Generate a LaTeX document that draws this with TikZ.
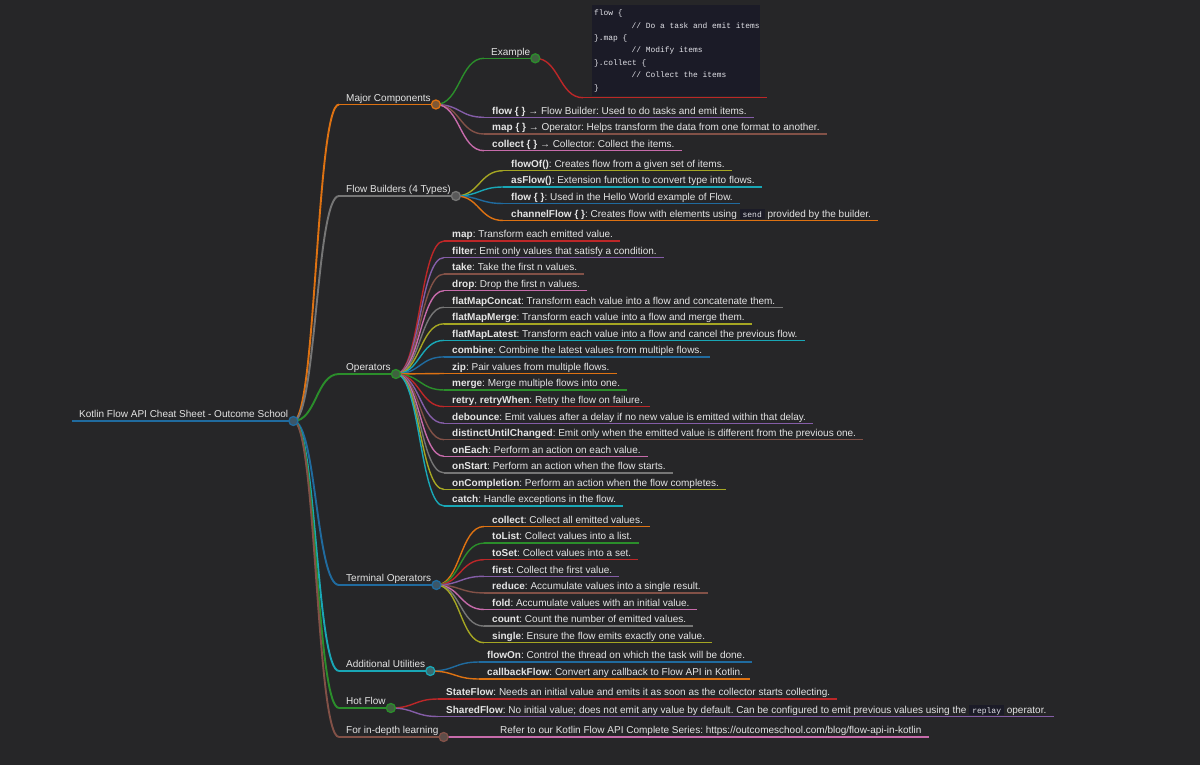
\documentclass[tikz,border=0pt]{standalone}
\usepackage{fontspec}
\setmainfont{Liberation Sans}
\setmonofont{Liberation Mono}
\usetikzlibrary{calc}
\frenchspacing
\definecolor{bgcol}{HTML}{262628}
\definecolor{fg}{HTML}{E4E4E4}
\definecolor{codebg}{HTML}{1B1B27}
\definecolor{codefg}{HTML}{E2E2E8}
\definecolor{dotfill}{HTML}{4A4A4A}
\definecolor{rA}{HTML}{1F77B4}
\definecolor{rB}{HTML}{FF7F0E}
\definecolor{rC}{HTML}{2CA02C}
\definecolor{rD}{HTML}{D62728}
\definecolor{rE}{HTML}{9467BD}
\definecolor{rF}{HTML}{8C564B}
\definecolor{rG}{HTML}{E377C2}
\definecolor{rH}{HTML}{7F7F7F}
\definecolor{rI}{HTML}{BCBD22}
\definecolor{rJ}{HTML}{17BECF}
\colorlet{cA}{rA!85!bgcol}
\colorlet{cB}{rB!85!bgcol}
\colorlet{cC}{rC!85!bgcol}
\colorlet{cD}{rD!85!bgcol}
\colorlet{cE}{rE!85!bgcol}
\colorlet{cF}{rF!90!bgcol}
\colorlet{cG}{rG!85!bgcol}
\colorlet{cH}{rH!90!bgcol}
\colorlet{cI}{rI!85!bgcol}
\colorlet{cJ}{rJ!85!bgcol}
\pgfdeclarelayer{back}
\pgfdeclarelayer{lines}
\pgfsetlayers{back,lines,main}
\tikzset{
  leafnode/.style={anchor=south west, inner xsep=0pt, inner ysep=3pt, text depth=0pt,
    text=fg, font=\fontsize{10}{12}\selectfont},
  link/.style={line width=1.4pt},
  mainlink/.style={line width=1.9pt},
  uline/.style={line width=1.4pt},
  dot/.style={circle, minimum size=9pt, inner sep=0pt, line width=1.3pt},
  codetext/.style={anchor=north west, align=left, inner sep=0pt, text=codefg,
    font=\ttfamily\fontsize{7.9}{12.4}\selectfont},
}
\newcommand\icode[1]{{\setlength{\fboxsep}{0pt}\colorbox{codebg}{\hspace*{3pt}\rule[-2pt]{0pt}{10.5pt}\textcolor{codefg}{\ttfamily\fontsize{8}{9}\selectfont #1}\hspace*{3pt}}}}
% leaf: name, parent dot, colour, X, underline y, text
\newcommand\mmleaf[6]{%
  \coordinate (#1s) at (#4,#5);
  \node[leafnode] (#1) at (#1s) {\hspace*{8pt}#6\hspace*{7pt}};
  \begin{pgfonlayer}{lines}
  \draw[link,#3] (#2.center) .. controls ($(#2.center)!0.5!(#2.center-|#1s)$) and ($(#1s)!0.5!(#1s-|#2.center)$) .. (#1s);
  \draw[uline,#3] (#1.south west) -- (#1.south east);
  \end{pgfonlayer}
}
% branch: name, parent dot, colour, X, underline y, text, link style
\newcommand\mmbranch[7]{%
  \coordinate (#1s) at (#4,#5);
  \node[leafnode] (#1) at (#1s) {\hspace*{7pt}#6\hspace*{5pt}};
  \begin{pgfonlayer}{lines}
  \draw[#7,#3] (#2.center) .. controls ($(#2.center)!0.5!(#2.center-|#1s)$) and ($(#1s)!0.5!(#1s-|#2.center)$) .. (#1s);
  \draw[uline,#3] (#1.south west) -- (#1.south east);
  \end{pgfonlayer}
  \node[dot, draw=#3, fill=#3!35!dotfill] (#1c) at (#1.south east) {};
}
\begin{document}
\begin{tikzpicture}[x=1pt,y=-1pt]
\useasboundingbox (0,0) rectangle (1200,765);
\begin{pgfonlayer}{back}
\fill[bgcol] (0,0) rectangle (1200,765);
\end{pgfonlayer}

% root
\coordinate (roots) at (72,421);
\node[leafnode] (root) at (roots) {\hspace*{7pt}Kotlin Flow API Cheat Sheet - Outcome School\hspace*{5pt}};
\begin{pgfonlayer}{lines}
\draw[uline,cA] (root.south west) -- (root.south east);
\end{pgfonlayer}
\node[dot, draw=cA, fill=cA!35!dotfill] (rootc) at (root.south east) {};

% Major Components
\mmbranch{mc}{rootc}{cB}{339}{104.5}{Major Components}{mainlink}
\mmbranch{ex}{mcc}{cC}{484}{58.3}{Example}{link}
\node[fill=codebg, anchor=north west, minimum width=168pt, minimum height=91pt, inner sep=0pt] (codebox) at (592,5) {};
\node[codetext] (codetxt) at (594,9.8) {flow \{\\\hspace*{37.4pt}// Do a task and emit items\\\}.map \{\\\hspace*{37.4pt}// Modify items\\\}.collect \{\\\hspace*{37.4pt}// Collect the items\\\}};
\coordinate (codes) at (583,97.7);
\coordinate (codee) at (767,97.7);
\begin{pgfonlayer}{lines}
\draw[link,cD] (exc.center) .. controls ($(exc.center)!0.5!(exc.center-|codes)$) and ($(codes)!0.5!(codes-|exc.center)$) .. (codes);
\draw[uline,cD] (codes) -- (codee);
\end{pgfonlayer}
\mmleaf{mca}{mcc}{cE}{484}{117.3}{\textbf{flow \{ \}} → Flow Builder: Used to do tasks and emit items.}
\mmleaf{mcb}{mcc}{cF}{484}{134}{\textbf{map \{ \}} → Operator: Helps transform the data from one format to another.}
\mmleaf{mcd}{mcc}{cG}{484}{150.7}{\textbf{collect \{ \}} → Collector: Collect the items.}

% Flow Builders
\mmbranch{fb}{rootc}{cH}{339}{196}{Flow Builders (4 Types)}{mainlink}
\mmleaf{fba}{fbc}{cI}{503}{170.7}{\textbf{flowOf()}: Creates flow from a given set of items.}
\mmleaf{fbb}{fbc}{cJ}{503}{187}{\textbf{asFlow()}: Extension function to convert type into flows.}
\mmleaf{fbd}{fbc}{cA}{503}{203.5}{\textbf{flow \{ \}}: Used in the Hello World example of Flow.}
\mmleaf{fbe}{fbc}{cB}{503}{220.5}{\textbf{channelFlow \{ \}}: Creates flow with elements using \icode{send} provided by the builder.}

% Operators
\mmbranch{op}{rootc}{cC}{339}{374}{Operators}{mainlink}
\mmleaf{opa}{opc}{cD}{444}{241}{\textbf{map}: Transform each emitted value.}
\mmleaf{opb}{opc}{cE}{444}{257.6}{\textbf{filter}: Emit only values that satisfy a condition.}
\mmleaf{opd}{opc}{cF}{444}{274.1}{\textbf{take}: Take the first n values.}
\mmleaf{ope}{opc}{cG}{444}{290.7}{\textbf{drop}: Drop the first n values.}
\mmleaf{opf}{opc}{cH}{444}{307.2}{\textbf{flatMapConcat}: Transform each value into a flow and concatenate them.}
\mmleaf{opg}{opc}{cI}{444}{323.8}{\textbf{flatMapMerge}: Transform each value into a flow and merge them.}
\mmleaf{oph}{opc}{cJ}{444}{340.4}{\textbf{flatMapLatest}: Transform each value into a flow and cancel the previous flow.}
\mmleaf{opi}{opc}{cA}{444}{356.9}{\textbf{combine}: Combine the latest values from multiple flows.}
\mmleaf{opj}{opc}{cB}{444}{373.5}{\textbf{zip}: Pair values from multiple flows.}
\mmleaf{opk}{opc}{cC}{444}{390}{\textbf{merge}: Merge multiple flows into one.}
\mmleaf{opl}{opc}{cD}{444}{406.6}{\textbf{retry}, \textbf{retryWhen}: Retry the flow on failure.}
\mmleaf{opm}{opc}{cE}{444}{423.2}{\textbf{debounce}: Emit values after a delay if no new value is emitted within that delay.}
\mmleaf{opn}{opc}{cF}{444}{439.7}{\textbf{distinctUntilChanged}: Emit only when the emitted value is different from the previous one.}
\mmleaf{opo}{opc}{cG}{444}{456.3}{\textbf{onEach}: Perform an action on each value.}
\mmleaf{opp}{opc}{cH}{444}{472.8}{\textbf{onStart}: Perform an action when the flow starts.}
\mmleaf{opq}{opc}{cI}{444}{489.4}{\textbf{onCompletion}: Perform an action when the flow completes.}
\mmleaf{opr}{opc}{cJ}{444}{506}{\textbf{catch}: Handle exceptions in the flow.}

% Terminal Operators
\mmbranch{to}{rootc}{cA}{339}{585}{Terminal Operators}{mainlink}
\mmleaf{toa}{toc}{cB}{484}{526.5}{\textbf{collect}: Collect all emitted values.}
\mmleaf{tob}{toc}{cC}{484}{543.1}{\textbf{toList}: Collect values into a list.}
\mmleaf{tod}{toc}{cD}{484}{559.7}{\textbf{toSet}: Collect values into a set.}
\mmleaf{toe}{toc}{cE}{484}{576.3}{\textbf{first}: Collect the first value.}
\mmleaf{tof}{toc}{cF}{484}{592.9}{\textbf{reduce}: Accumulate values into a single result.}
\mmleaf{tog}{toc}{cG}{484}{609.5}{\textbf{fold}: Accumulate values with an initial value.}
\mmleaf{toh}{toc}{cH}{484}{626.1}{\textbf{count}: Count the number of emitted values.}
\mmleaf{toi}{toc}{cI}{484}{642.7}{\textbf{single}: Ensure the flow emits exactly one value.}

% Additional Utilities
\mmbranch{au}{rootc}{cJ}{339}{671}{Additional Utilities}{mainlink}
\mmleaf{aua}{auc}{cA}{479}{662}{\textbf{flowOn}: Control the thread on which the task will be done.}
\mmleaf{aub}{auc}{cB}{479}{679}{\textbf{callbackFlow}: Convert any callback to Flow API in Kotlin.}

% Hot Flow
\mmbranch{hf}{rootc}{cC}{339}{708}{Hot Flow}{mainlink}
\mmleaf{hfa}{hfc}{cD}{438}{699}{\textbf{StateFlow}: Needs an initial value and emits it as soon as the collector starts collecting.}
\mmleaf{hfb}{hfc}{cE}{438}{716.5}{\textbf{SharedFlow}: No initial value; does not emit any value by default. Can be configured to emit previous values using the \icode{replay} operator.}

% For in-depth learning
\mmbranch{fl}{rootc}{cF}{339}{737}{For in-depth learning}{mainlink}
\mmleaf{fla}{flc}{cG}{492}{737}{Refer to our Kotlin Flow API Complete Series: https://outcomeschool.com/blog/flow-api-in-kotlin}
\end{tikzpicture}
\end{document}
